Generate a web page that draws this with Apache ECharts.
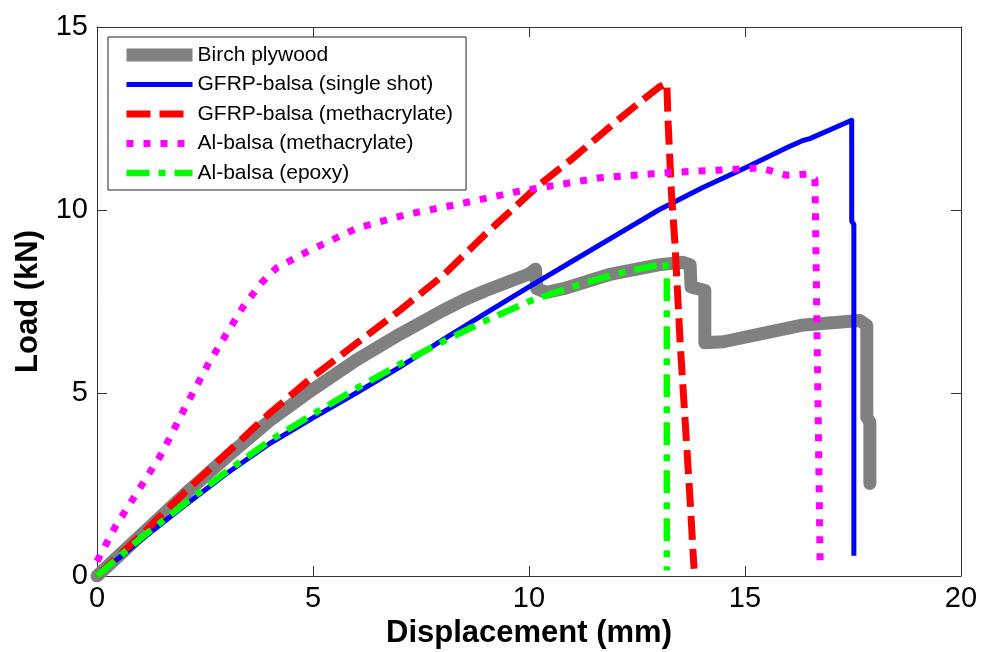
<!DOCTYPE html>
<html>
<head>
<meta charset="utf-8">
<title>Load vs displacement</title>
<script src="https://cdn.jsdelivr.net/npm/echarts@6/dist/echarts.min.js"></script>
<style>
  html, body { margin: 0; padding: 0; background: #fff; }
  #chart { width: 981px; height: 652px; }
</style>
</head>
<body>
<div id="chart"></div>
<script>
// [displacement (mm), load (kN)]
const birch = [
  [0, 0], [0.5, 0.55], [1, 1.1], [2, 2.2], [3, 3.25], [4, 4.25], [5, 5.1],
  [6, 5.9], [7, 6.6], [8, 7.25], [8.5, 7.55], [9, 7.8], [10, 8.25],
  [10.15, 8.38], [10.18, 7.85], [10.4, 7.75], [10.8, 7.85], [11.9, 8.25],
  [13, 8.5], [13.56, 8.57], [13.73, 8.5], [13.75, 7.9], [14.07, 7.8],
  [14.07, 6.37], [14.5, 6.4], [15.5, 6.65], [16.3, 6.85], [17.66, 6.98],
  [17.82, 6.85], [17.82, 4.34], [17.89, 4.2], [17.89, 2.53],
];
const gfrpSingle = [
  [0, 0], [1, 0.97], [2, 1.9], [3, 2.8], [4, 3.62], [5, 4.32], [6, 5.0],
  [7, 5.7], [8, 6.45], [9, 7.18], [10, 7.9], [11, 8.6], [12, 9.3],
  [13, 10.0], [14, 10.6], [15, 11.15], [16, 11.72], [16.34, 11.9],
  [16.5, 11.95], [17.47, 12.45], [17.47, 9.7], [17.52, 9.6], [17.52, 0.55],
];
const gfrpMeth = [
  [0, 0], [1, 1.1], [2, 2.25], [3, 3.35], [4, 4.45], [5, 5.45], [6, 6.35],
  [7, 7.25], [8, 8.2], [9, 9.35], [10.2, 10.65], [11, 11.4], [12, 12.4],
  [12.57, 12.95], [13, 13.35], [13.19, 13.47], [13.22, 12.4], [13.3, 10.4],
  [13.38, 9.06], [13.5, 6.35], [13.56, 5.25], [13.73, 2.06], [13.82, 0.2],
];
const alMeth = [
  [0, 0.4], [0.42, 1.34], [0.96, 2.34], [1.5, 3.35], [2.04, 4.61],
  [2.58, 5.8], [3.04, 6.7], [3.38, 7.35], [3.8, 8.0], [4.16, 8.42],
  [4.93, 8.9], [6.01, 9.5], [7.17, 9.88], [8.33, 10.15], [9.72, 10.5],
  [11.64, 10.88], [13.19, 11.02], [14.73, 11.11], [15.35, 11.15],
  [15.96, 10.95], [16.43, 10.98], [16.62, 10.84], [16.74, 0.29],
];
const alEpoxy = [
  [0, 0], [1, 1.02], [2, 1.95], [3, 2.85], [4, 3.7], [5, 4.42], [6, 5.12],
  [7, 5.78], [8, 6.4], [9, 6.98], [10, 7.5], [11, 7.9], [12, 8.25],
  [13, 8.5], [13.15, 8.57], [13.19, 8.2], [13.19, 0.15],
];
const seriesNames = [
  "Birch plywood",
  "GFRP-balsa (single shot)",
  "GFRP-balsa (methacrylate)",
  "Al-balsa (methacrylate)",
  "Al-balsa (epoxy)",
];
const xTicks = [0, 20, 5];
const yTicks = [0, 15, 5];

const font = "Liberation Sans, Arial, sans-serif";
const axisColor = "#333";

const styles = [
  { color: "#808080", width: 13, type: "solid", cap: "round", join: "round" },
  { color: "#0000ff", width: 5, type: "solid", cap: "butt", join: "round" },
  { color: "#ff0000", width: 7, type: [24, 9], cap: "butt", join: "round" },
  { color: "#ff00ff", width: 7, type: [7, 10], cap: "butt", join: "round" },
  { color: "#00ff00", width: 6.5, type: [23, 9, 7, 9], cap: "butt", join: "round" },
];
const dataSets = [birch, gfrpSingle, gfrpMeth, alMeth, alEpoxy];

const chart = echarts.init(document.getElementById("chart"), null, { renderer: "canvas" });

function boxAxis(pos, range) {
  return {
    type: "value",
    position: pos,
    min: range[0],
    max: range[1],
    interval: range[2],
    axisLine: { show: true, onZero: false, lineStyle: { color: axisColor, width: 1 } },
    axisTick: { show: true, inside: true, length: 10, lineStyle: { color: axisColor } },
    axisLabel: { show: false },
    splitLine: { show: false },
  };
}

chart.setOption({
  animation: false,
  backgroundColor: "#fff",
  textStyle: { fontFamily: font },
  grid: { left: 97, right: 20, top: 27, bottom: 76, containLabel: false, outerBoundsMode: "none" },
  legend: {
    orient: "vertical",
    left: 108,
    top: 37,
    padding: [7, 13, 6, 12],
    itemGap: 7.5,
    itemWidth: 66,
    itemHeight: 14,
    borderColor: "#222",
    borderWidth: 1,
    backgroundColor: "#fff",
    textStyle: { fontSize: 21, color: "#000", fontFamily: font, lineHeight: 22 },
    data: seriesNames.map((n, i) => ({
      name: n,
      itemStyle: { opacity: 0 },
      lineStyle: { width: styles[i].width, type: styles[i].type, color: styles[i].color, cap: "butt" },
    })),
  },
  xAxis: [
    Object.assign(boxAxis("bottom", xTicks), {
      name: "Displacement (mm)",
      nameLocation: "middle",
      nameGap: 40,
      nameTextStyle: { fontSize: 31, fontWeight: "bold", color: "#000", fontFamily: font },
      axisLabel: { show: true, fontSize: 29, color: "#000", margin: 8, fontFamily: font },
    }),
    boxAxis("top", xTicks),
  ],
  yAxis: [
    Object.assign(boxAxis("left", yTicks), {
      name: "Load (kN)",
      nameLocation: "middle",
      nameGap: 53,
      nameTextStyle: { fontSize: 31, fontWeight: "bold", color: "#000", fontFamily: font },
      axisLabel: { show: true, fontSize: 29, color: "#000", margin: 9, fontFamily: font },
    }),
    boxAxis("right", yTicks),
  ],
  series: seriesNames.map((n, i) => ({
    name: n,
    type: "line",
    xAxisIndex: 0,
    yAxisIndex: 0,
    data: dataSets[i],
    showSymbol: false,
    symbol: "none",
    smooth: false,
    lineStyle: styles[i],
    itemStyle: { color: styles[i].color },
    emphasis: { disabled: true },
  })),
});
</script>
</body>
</html>
